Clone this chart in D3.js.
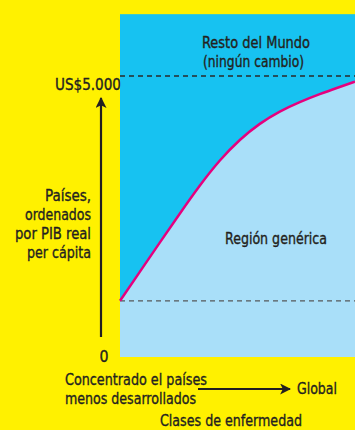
<!DOCTYPE html>
<html>
<head>
<meta charset="utf-8">
<script src="https://cdn.jsdelivr.net/npm/d3@7"></script>
<style>
  body { margin: 0; background: #fff100; }
  svg { display: block; }
  text { font-family: "DejaVu Sans Condensed", "Liberation Sans Narrow", sans-serif; fill: #231f20; font-size: 16px; stroke: #231f20; stroke-width: 0.35px; }
</style>
</head>
<body>
<svg width="355" height="430"></svg>
<script>
// disease classes: 0 = concentrated in least developed countries, 1 = global
const classes = [0, 0.085, 0.17, 0.255, 0.34, 0.425, 0.51, 0.595, 0.68, 0.765, 0.85, 0.935, 1.0]
// income threshold (US$ real GDP per capita) bounding the generic region
const income = [1000, 1520, 2040, 2555, 3060, 3510, 3875, 4160, 4375, 4540, 4680, 4805, 4900]
const yTickLabels = ["US$5.000", "0"]
const dashed = [5000, 1000]
const yLabel = ["Países,", "ordenados", "por PIB real", "per cápita"]
const xLabelLeft = ["Concentrado el países", "menos desarrollados"]

const svg = d3.select('svg')

const x = d3.scaleLinear().domain([0, 1]).range([120, 355])
const y = d3.scaleLinear().domain([0, 5000]).range([357, 76])
const yMax = 6100

// helper: condensed text squeezed to the width seen in the print
function label(txt, px, py, w, anchor) {
    const t = svg.append('text')
        .attr('x', px).attr('y', py)
        .attr('text-anchor', anchor || 'start')
        .text(txt)
    if (w) t.attr('textLength', w).attr('lengthAdjust', 'spacingAndGlyphs')
    return t
}

// background of plot
svg.append('rect')
    .attr('x', x(0)).attr('y', y(yMax))
    .attr('width', x(1) - x(0)).attr('height', y(0) - y(yMax))
    .attr('fill', '#17c2f1')

const pts = classes.map((c, i) => [c, income[i]])

const area = d3.area()
    .x(d => x(d[0]))
    .y0(y(0))
    .y1(d => y(d[1]))
    .curve(d3.curveBasis)

svg.append('path')
    .datum(pts)
    .attr('d', area)
    .attr('fill', '#a9dff9')

// dashed reference lines
svg.selectAll('.dash')
    .data(dashed)
    .enter().append('line')
    .attr('class', 'dash')
    .attr('x1', x(0)).attr('x2', x(1))
    .attr('y1', d => y(d)).attr('y2', d => y(d))
    .attr('stroke', (d, i) => i === 0 ? '#2a2a2a' : '#55585a')
    .attr('stroke-width', 1.3)
    .attr('stroke-dasharray', '5,4')

const line = d3.line()
    .x(d => x(d[0]))
    .y(d => y(d[1]))
    .curve(d3.curveBasis)

svg.append('path')
    .datum(pts)
    .attr('d', line)
    .attr('fill', 'none')
    .attr('stroke', '#e6007e')
    .attr('stroke-width', 2.5)

// arrows
const defs = svg.append('defs')
defs.append('marker')
    .attr('id', 'arr')
    .attr('viewBox', '0 0 10 10')
    .attr('refX', 9).attr('refY', 5)
    .attr('markerWidth', 5).attr('markerHeight', 5)
    .attr('markerUnits', 'strokeWidth')
    .attr('orient', 'auto')
    .append('path')
    .attr('d', 'M0,0 L10,5 L0,10 L2.5,5 Z')
    .attr('fill', '#231f20')

svg.append('line')
    .attr('x1', 101).attr('x2', 101)
    .attr('y1', 337).attr('y2', 98)
    .attr('stroke', '#231f20').attr('stroke-width', 2.2)
    .attr('marker-end', 'url(#arr)')

svg.append('line')
    .attr('x1', 198).attr('x2', 290)
    .attr('y1', 389).attr('y2', 389)
    .attr('stroke', '#231f20').attr('stroke-width', 2.2)
    .attr('marker-end', 'url(#arr)')

// tick labels
label(yTickLabels[0], 121, y(5000) + 14, 66, 'end')
label(yTickLabels[1], 104, 362, 9, 'middle')

// y label
const yLabelW = [46, 66, 76, 64]
yLabel.forEach((d, i) => label(d, 91, 201 + i * 19, yLabelW[i], 'end'))

// region labels
label("Resto del Mundo", 202, 48, 108)
label("(ningún cambio)", 203, 67, 101)
label("Región genérica", 225, 244, 102)

// x labels
const xLabelW = [142, 131]
xLabelLeft.forEach((d, i) => label(d, 65, 385 + i * 18.5, xLabelW[i]))
label("Global", 297, 394, 40)
label("Clases de enfermedad", 160, 426, 142)
</script>
</body>
</html>
